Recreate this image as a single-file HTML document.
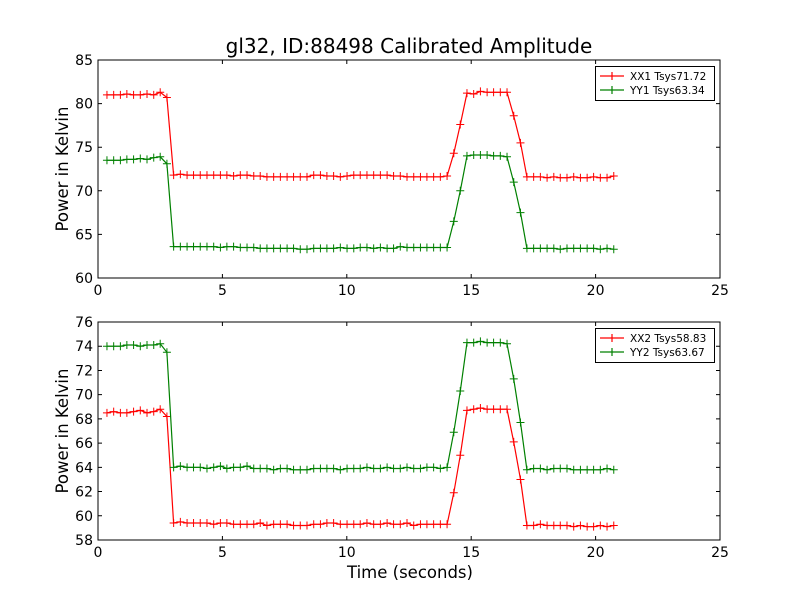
<!DOCTYPE html>
<html><head><meta charset="utf-8"><style>
body{margin:0;background:#fff}
svg{display:block;font-family:"DejaVu Sans","Liberation Sans",sans-serif}
</style></head><body>
<svg id="c" width="800" height="600"></svg>
<script>
const times=[0.36,0.63,0.90,1.16,1.43,1.70,1.97,2.24,2.50,2.77,3.04,3.31,3.58,3.84,4.11,4.38,4.65,4.92,5.18,5.45,5.72,5.99,6.26,6.52,6.79,7.06,7.33,7.60,7.86,8.13,8.40,8.67,8.94,9.20,9.47,9.74,10.01,10.28,10.54,10.81,11.08,11.35,11.62,11.88,12.15,12.42,12.69,12.96,13.22,13.49,13.76,14.03,14.30,14.56,14.83,15.10,15.37,15.64,15.90,16.17,16.44,16.71,16.98,17.24,17.51,17.78,18.05,18.32,18.58,18.85,19.12,19.39,19.66,19.92,20.19,20.46,20.73];
const xx1=[81.0,81.0,81.0,81.1,81.0,81.0,81.1,81.0,81.3,80.7,
71.8,71.9,71.8,71.8,71.8,71.8,71.8,71.8,71.8,71.7,71.8,71.8,71.7,71.7,71.6,71.6,71.6,71.6,71.6,71.6,71.6,71.8,71.8,71.7,71.7,71.6,71.7,71.8,71.8,71.8,71.8,71.8,71.8,71.7,71.7,71.6,71.6,71.6,71.6,71.6,71.6,71.7,
74.3,77.6,81.2,81.1,81.4,81.3,81.3,81.3,81.3,78.6,75.5,
71.6,71.6,71.6,71.5,71.6,71.5,71.5,71.6,71.5,71.5,71.6,71.5,71.5,71.7];
const yy1=[73.5,73.5,73.5,73.6,73.6,73.7,73.6,73.8,73.9,73.1,
63.6,63.6,63.6,63.6,63.6,63.6,63.6,63.5,63.6,63.6,63.5,63.5,63.5,63.4,63.4,63.4,63.4,63.4,63.4,63.3,63.3,63.4,63.4,63.4,63.4,63.5,63.4,63.4,63.5,63.5,63.4,63.5,63.4,63.4,63.6,63.5,63.5,63.5,63.5,63.5,63.5,63.5,
66.5,70.0,74.0,74.1,74.1,74.1,74.0,74.0,73.9,71.0,67.5,
63.4,63.4,63.4,63.4,63.4,63.3,63.4,63.4,63.4,63.4,63.4,63.3,63.4,63.3];
const xx2=[68.5,68.6,68.5,68.5,68.6,68.7,68.5,68.6,68.8,68.2,
59.4,59.5,59.4,59.4,59.4,59.4,59.3,59.4,59.4,59.3,59.3,59.3,59.3,59.4,59.2,59.3,59.3,59.3,59.2,59.2,59.2,59.3,59.3,59.4,59.4,59.3,59.3,59.3,59.3,59.4,59.3,59.3,59.4,59.3,59.3,59.4,59.2,59.3,59.3,59.3,59.3,59.3,
61.9,65.0,68.7,68.8,68.9,68.8,68.8,68.8,68.8,66.1,63.0,
59.2,59.2,59.3,59.2,59.2,59.2,59.2,59.1,59.2,59.1,59.1,59.2,59.1,59.2];
const yy2=[74.0,74.0,74.0,74.1,74.1,74.0,74.1,74.1,74.2,73.5,
64.0,64.1,64.0,64.0,64.0,63.9,64.0,64.1,63.9,64.0,64.0,64.1,63.9,63.9,63.9,63.8,63.9,63.9,63.8,63.8,63.8,63.9,63.9,63.9,63.9,63.8,63.9,63.9,63.9,64.0,63.9,63.9,64.0,63.9,63.9,64.0,63.9,63.9,64.0,64.0,63.9,64.0,
66.9,70.3,74.3,74.3,74.4,74.3,74.3,74.3,74.2,71.3,67.7,
63.8,63.9,63.9,63.8,63.9,63.9,63.9,63.8,63.8,63.8,63.8,63.8,63.9,63.8];
const xTicks=[0,5,10,15,20,25];
const yTicks1=[60,65,70,75,80,85];
const yTicks2=[58,60,62,64,66,68,70,72,74,76];
const legend1=["XX1 Tsys71.72","YY1 Tsys63.34"];
const legend2=["XX2 Tsys58.83","YY2 Tsys63.67"];

const NS="http://www.w3.org/2000/svg";
const svg=document.getElementById('c');
function el(tag,attrs,parent){const e=document.createElementNS(NS,tag);for(const k in attrs)e.setAttribute(k,attrs[k]);(parent||svg).appendChild(e);return e;}
const L=98,R=720;
function xs(t){return L+(t-0)/(25-0)*(R-L);}

function panel(id,top,bot,ymin,ymax,yt,series,legendLabels){
  const g=el('g',{});
  
  
  const ys=v=>bot-(v-ymin)/(ymax-ymin)*(bot-top);
  series.forEach((s,si)=>{
    const sg=el('g',{},g);
    
    
    let d='';
    times.forEach((t,i)=>{d+=(i?'L':'M')+xs(t).toFixed(1)+' '+ys(s.vals[i]).toFixed(1);});
    el('path',{d:d,fill:'none',stroke:s.color,'stroke-width':1.2},sg);
    let m='';
    times.forEach((t,i)=>{const x=xs(t),y=ys(s.vals[i]);m+='M'+(x-4)+' '+y+'h8M'+x+' '+(y-4)+'v8';});
    const mp=el('path',{d:m,stroke:s.color,'stroke-width':1},sg);
    
    
  });
  const fr=el('rect',{x:L,y:top,width:R-L,height:bot-top,fill:'none',stroke:'#000','stroke-width':1},g);
  
  
  xTicks.forEach(v=>{
    const x=xs(v);
    el('path',{d:`M${x} ${bot}v-4M${x} ${top}v4`,stroke:'#000'},g);
    const tx=el('text',{x:x,y:bot+17,'text-anchor':'middle','font-size':14},g);
    tx.textContent=v;
    
    
  });
  yt.forEach(v=>{
    const y=ys(v);
    el('path',{d:`M${L} ${y}h4M${R} ${y}h-4`,stroke:'#000'},g);
    const tx=el('text',{x:L-5,y:y+5,'text-anchor':'end','font-size':14},g);
    tx.textContent=v;
    
    
  });
  const yl=el('text',{x:0,y:0,'text-anchor':'middle','font-size':16.5,transform:`translate(68,${(top+bot)/2}) rotate(-90)`},g);
  yl.textContent='Power in Kelvin';
  
  
  const lg=el('g',{},g);
  
  
  el('rect',{x:595.5,y:top+6.5,width:119,height:34,fill:'#fff',stroke:'#000'},lg);
  legendLabels.forEach((lab,i)=>{
    const y=top+16+i*14;
    const c=series[i].color;
    el('path',{d:`M600 ${y}h24M608 ${y}h8M612 ${y-4}v8`,stroke:c,'stroke-width':1.2},lg);
    const tx=el('text',{x:630,y:y+4,'font-size':10.5},lg);
    tx.textContent=lab;
    
    
  });
}
const t=el('text',{x:409,y:53,'text-anchor':'middle','font-size':20});
t.textContent='gl32, ID:88498 Calibrated Amplitude';


panel('top-panel',60,278,60,85,yTicks1,[{name:'XX1',vals:xx1,color:'#ff0000'},{name:'YY1',vals:yy1,color:'#008000'}],legend1);
panel('bottom-panel',322,540,58,76,yTicks2,[{name:'XX2',vals:xx2,color:'#ff0000'},{name:'YY2',vals:yy2,color:'#008000'}],legend2);
const xl=el('text',{x:410,y:578,'text-anchor':'middle','font-size':16.5});
xl.textContent='Time (seconds)';


</script>
</body></html>
